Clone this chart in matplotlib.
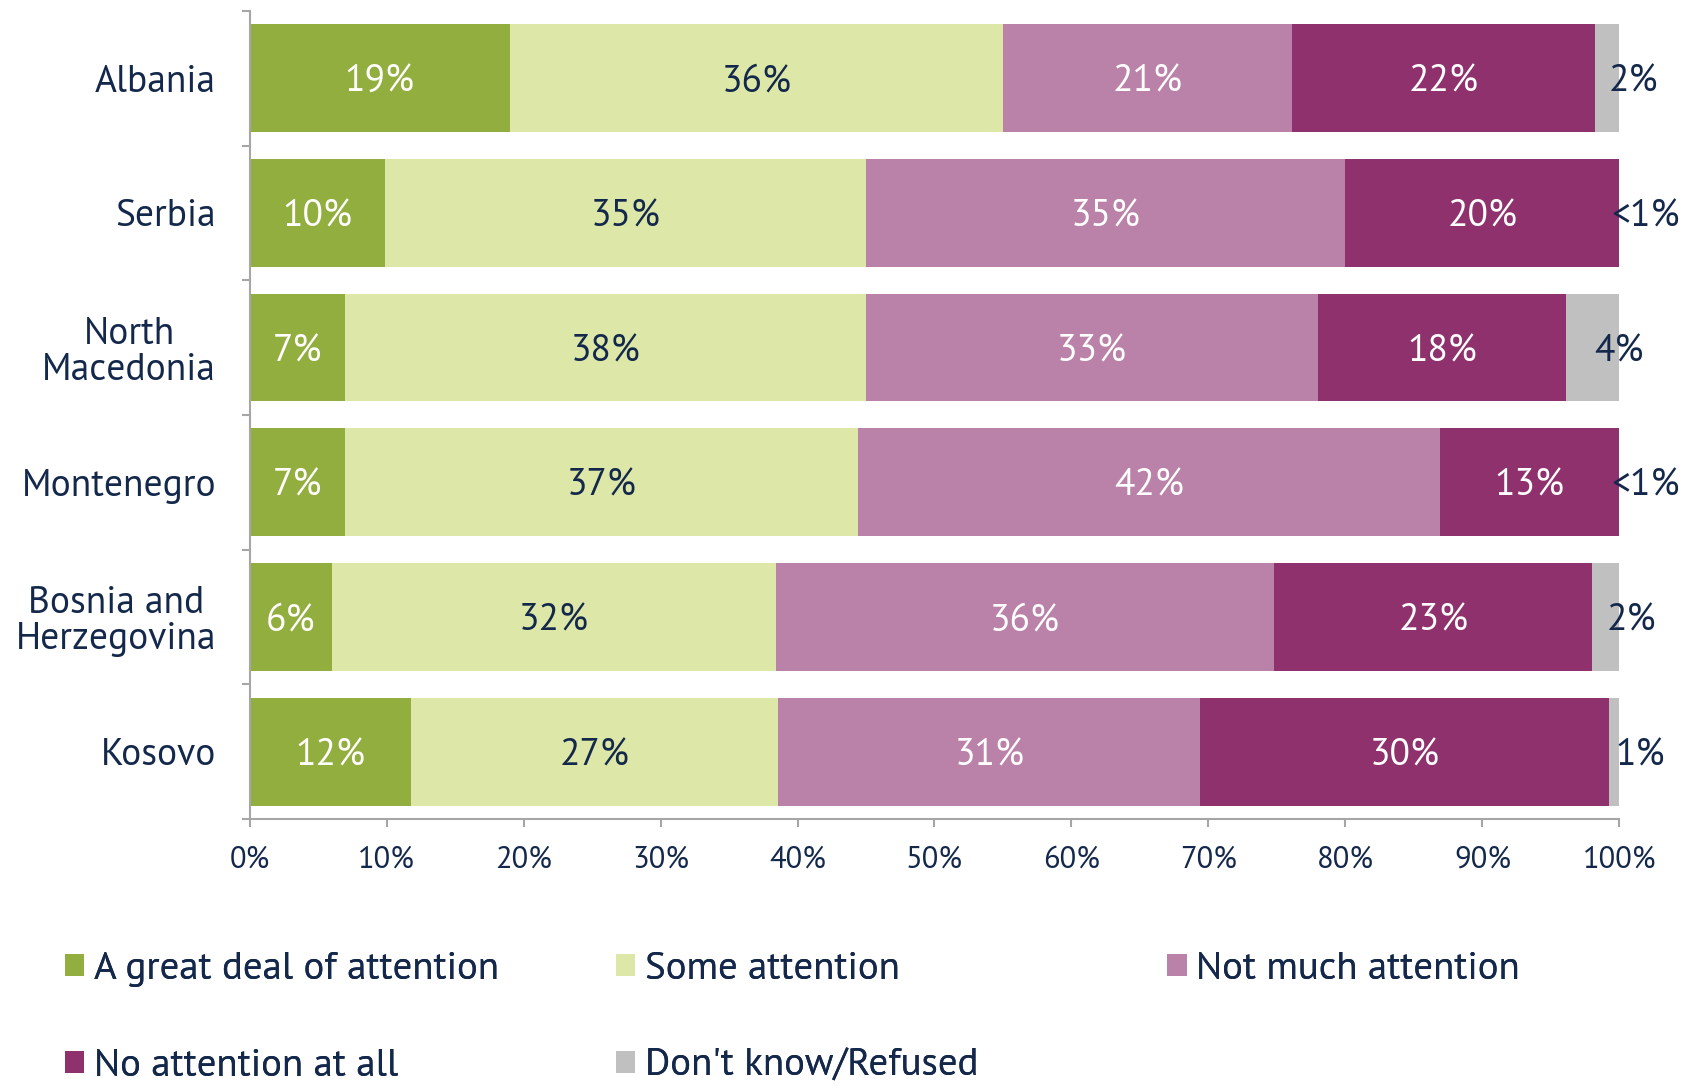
import matplotlib
matplotlib.use("Agg")
import matplotlib.pyplot as plt
import numpy as np

countries = ["Albania", "Serbia", "North\nMacedonia", "Montenegro", "Bosnia and\nHerzegovina", "Kosovo"]
series_names = ["A great deal of attention", "Some attention", "Not much attention",
                "No attention at all", "Don't know/Refused"]
great_deal = [19.0, 9.9, 7.0, 7.0, 6.0, 11.8]
some = [36.0, 35.1, 38.0, 37.4, 32.4, 26.8]
not_much = [21.1, 35.0, 33.0, 42.5, 36.4, 30.8]
none_at_all = [22.1, 20.0, 18.1, 13.1, 23.2, 29.8]
dont_know = [1.8, 0.0, 3.9, 0.0, 2.0, 0.8]
labels_great = ["19%", "10%", "7%", "7%", "6%", "12%"]
labels_some = ["36%", "35%", "38%", "37%", "32%", "27%"]
labels_notmuch = ["21%", "35%", "33%", "42%", "36%", "31%"]
labels_none = ["22%", "20%", "18%", "13%", "23%", "30%"]
labels_dk = ["2%", "<1%", "4%", "<1%", "2%", "1%"]
xticks = [0, 10, 20, 30, 40, 50, 60, 70, 80, 90, 100]

colors = ["#92ae3e", "#dde8a8", "#ba82a8", "#8e316c", "#c0c0c0"]
label_colors = ["white", "#14284b", "white", "white", "#14284b"]
navy = "#14284b"
grey = "#a6a6a6"

MAIN = ["PT Sans", "DejaVu Sans"]
plt.rcParams['font.family'] = MAIN

fig = plt.figure(figsize=(16.94, 10.90), dpi=100)
ax = fig.add_axes([0.1473, 0.2486, 0.956 - 0.1473, 0.990 - 0.2486])

data = [great_deal, some, not_much, none_at_all, dont_know]
labs = [labels_great, labels_some, labels_notmuch, labels_none, labels_dk]
y = np.arange(len(countries))
left = np.zeros(len(countries))
handles = []
for i, (vals, name) in enumerate(zip(data, series_names)):
    vals = np.array(vals)
    h = ax.barh(y, vals, left=left, height=0.8, color=colors[i], label=name, linewidth=0)
    handles.append(h)
    for j in range(len(countries)):
        if i < 4:
            ax.text(left[j] + vals[j] / 2, y[j], labs[i][j], ha="center", va="center_baseline",
                    color=label_colors[i], fontsize=27)
        else:
            ax.text(left[j] + vals[j] / 2 + 1.9, y[j], labs[i][j], ha="center", va="center_baseline",
                    color=navy, fontsize=27)
    left = left + vals

ax.set_xlim(0, 100)
ax.set_ylim(len(countries) - 0.5, -0.5)
ax.set_yticks(y)
ax.set_yticklabels(countries, fontsize=27, color=navy, linespacing=1.05,
                   ha="right", multialignment="center")
ax.set_yticks(np.arange(-0.5, len(countries), 1.0), minor=True)
ax.tick_params(axis="y", which="major", length=0, pad=24)
ax.tick_params(axis="y", which="minor", length=6, width=1.5, color=grey)
ax.set_xticks(xticks)
ax.set_xticklabels([f"{t}%" for t in xticks], fontsize=22, color=navy)
ax.tick_params(axis="x", length=6, width=1.5, color=grey, pad=13)
for s in ["top", "right"]:
    ax.spines[s].set_visible(False)
for s in ["left", "bottom"]:
    ax.spines[s].set_color(grey)
    ax.spines[s].set_linewidth(1.5)

# legend: row-major, 3 columns, placed per entry
leg_x = [0.0384, 0.3635, 0.689, 0.0384, 0.3635]
leg_y = [0.111, 0.111, 0.111, 0.022, 0.022]
for h, name, lx, ly in zip(handles, series_names, leg_x, leg_y):
    lg = fig.legend(handles=[h], labels=[name], loc="center left",
                    bbox_to_anchor=(lx, ly), frameon=False,
                    prop={"family": MAIN, "size": 28},
                    handlelength=0.5, handleheight=0.5, handletextpad=0.25,
                    borderpad=0, borderaxespad=0, labelcolor=navy)
    fig.add_artist(lg)

fig.savefig("out.png", dpi=100)
